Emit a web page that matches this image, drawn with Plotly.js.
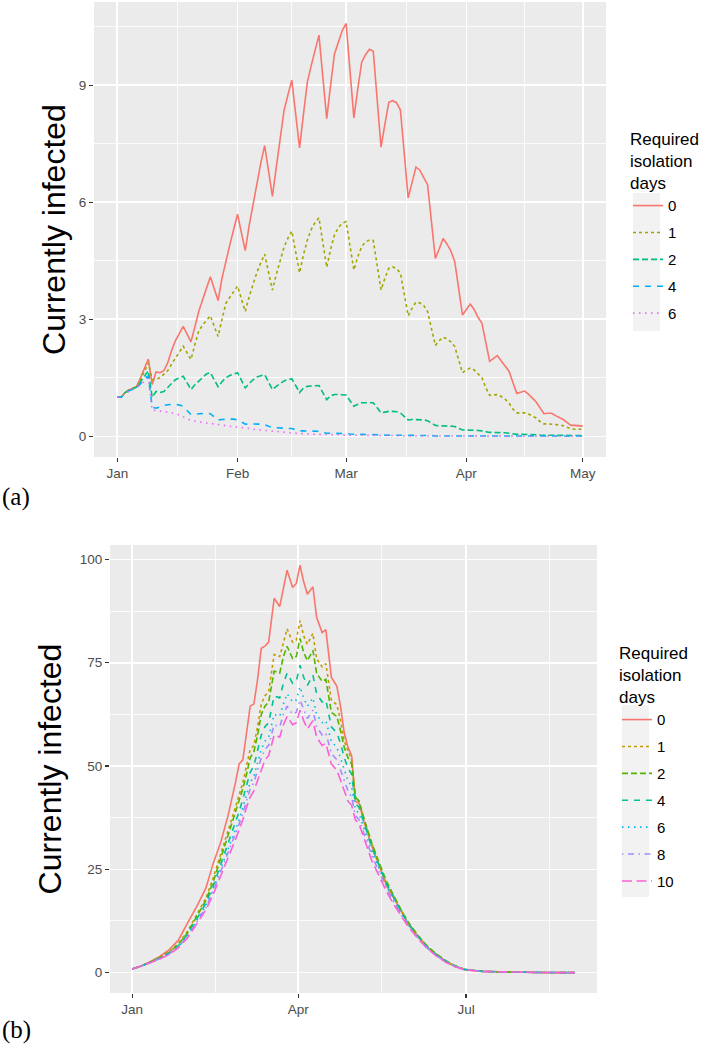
<!DOCTYPE html>
<html>
<head>
<meta charset="utf-8">
<script src="https://cdn.plot.ly/plotly-3.0.1.min.js"></script>
<style>html,body{margin:0;padding:0;background:#fff;}#chart{width:709px;height:1050px;}</style>
</head>
<body>
<div id="chart"></div>
<script>
// ---------- Panel (a): daily values, Jan 1 .. May 1 ----------
const startA = '2021-01-01';
const levelsA = ['0', '1', '2', '4', '6'];
const colorsA = ['#F8766D', '#A3A500', '#00BF7D', '#00B0F6', '#E76BF3'];
const dashesA = ['solid', '3px,3px', '6px,3px', '6px,6px', '1.5px,4.5px'];

const a_iso0 = [1.00,1.00,1.12,1.19,1.23,1.28,1.50,1.75,1.98,1.33,
1.65,1.63,1.68,1.88,2.20,2.45,2.65,2.82,2.62,2.42,
2.80,3.20,3.50,3.80,4.09,3.78,3.48,4.05,4.52,4.90,
5.30,5.69,5.22,4.76,5.40,5.97,6.50,7.00,7.45,6.80,
6.15,6.90,7.58,8.35,8.75,9.13,8.25,7.39,8.25,9.07,
9.50,9.88,10.28,9.20,8.14,9.00,9.80,10.10,10.40,10.58,
9.40,8.16,8.90,9.58,9.78,9.92,9.87,8.65,7.41,8.00,
8.56,8.60,8.55,8.36,7.25,6.11,6.50,6.90,6.82,6.65,
6.45,5.50,4.56,4.80,5.07,4.93,4.75,4.48,3.80,3.11,
3.25,3.39,3.25,3.05,2.90,2.40,1.92,2.00,2.07,1.93,
1.80,1.67,1.38,1.10,1.13,1.16,1.08,0.98,0.88,0.73,
0.58,0.59,0.59,0.53,0.48,0.43,0.35,0.28,0.28,0.27,
0.26];
const a_iso1 = [1.00,1.00,1.12,1.19,1.23,1.27,1.45,1.65,1.88,1.45,
1.46,1.50,1.60,1.68,1.85,2.00,2.15,2.31,2.14,1.97,
2.35,2.70,2.85,2.98,3.09,2.82,2.56,3.00,3.41,3.56,
3.72,3.85,3.52,3.20,3.58,3.92,4.20,4.45,4.67,4.20,
3.75,4.15,4.50,4.85,5.08,5.26,4.72,4.19,4.65,5.03,
5.30,5.48,5.60,4.95,4.33,4.80,5.16,5.35,5.46,5.50,
4.88,4.26,4.60,4.86,4.98,5.03,5.02,4.40,3.75,4.05,
4.31,4.34,4.30,4.18,3.62,3.09,3.28,3.44,3.42,3.35,
3.20,2.75,2.33,2.45,2.54,2.50,2.42,2.30,1.95,1.63,
1.70,1.75,1.70,1.60,1.50,1.25,1.05,1.06,1.07,1.02,
0.95,0.85,0.70,0.60,0.60,0.60,0.57,0.53,0.47,0.38,
0.32,0.32,0.31,0.31,0.29,0.27,0.23,0.19,0.18,0.18,
0.18];
const a_iso2 = [1.00,1.00,1.12,1.18,1.22,1.26,1.40,1.55,1.68,1.00,
1.15,1.12,1.15,1.25,1.35,1.45,1.50,1.54,1.37,1.20,
1.32,1.42,1.52,1.60,1.63,1.45,1.27,1.40,1.50,1.56,
1.60,1.63,1.44,1.24,1.35,1.45,1.52,1.56,1.58,1.39,
1.20,1.28,1.36,1.42,1.46,1.47,1.30,1.12,1.24,1.28,
1.29,1.30,1.30,1.12,0.94,1.04,1.07,1.07,1.07,1.06,
0.91,0.77,0.82,0.86,0.86,0.86,0.86,0.73,0.60,0.62,
0.64,0.64,0.63,0.60,0.50,0.42,0.43,0.43,0.43,0.42,
0.40,0.34,0.28,0.27,0.27,0.26,0.26,0.25,0.20,0.16,
0.16,0.16,0.16,0.15,0.14,0.12,0.10,0.10,0.10,0.10,
0.09,0.08,0.06,0.05,0.05,0.05,0.05,0.04,0.04,0.03,
0.03,0.03,0.03,0.03,0.02,0.02,0.02,0.02,0.02,0.02,
0.02];
const a_iso4 = [1.00,1.00,1.10,1.17,1.20,1.24,1.35,1.48,1.55,0.75,
0.72,0.76,0.79,0.81,0.82,0.82,0.80,0.77,0.66,0.56,
0.57,0.58,0.59,0.59,0.58,0.50,0.42,0.43,0.44,0.44,
0.44,0.42,0.37,0.31,0.32,0.32,0.32,0.31,0.30,0.26,
0.22,0.22,0.21,0.21,0.20,0.20,0.17,0.14,0.14,0.14,
0.14,0.13,0.13,0.10,0.08,0.08,0.08,0.08,0.07,0.07,
0.06,0.05,0.05,0.05,0.05,0.05,0.05,0.04,0.03,0.03,
0.03,0.03,0.03,0.03,0.02,0.02,0.02,0.02,0.02,0.02,
0.02,0.02,0.01,0.01,0.01,0.01,0.01,0.01,0.01,0.01,
0.01,0.01,0.01,0.01,0.01,0.01,0.01,0.01,0.01,0.01,
0.01,0.01,0.01,0.01,0.01,0.01,0.01,0.01,0.01,0.01,
0.01,0.01,0.01,0.01,0.01,0.01,0.01,0.01,0.01,0.01,
0.01];
const a_iso6 = [1.00,1.00,1.10,1.16,1.20,1.24,1.32,1.42,1.50,0.67,
0.66,0.64,0.63,0.62,0.60,0.58,0.55,0.50,0.45,0.41,
0.39,0.37,0.35,0.34,0.33,0.32,0.31,0.29,0.27,0.26,
0.25,0.24,0.23,0.22,0.20,0.18,0.17,0.16,0.15,0.14,
0.13,0.12,0.11,0.10,0.09,0.08,0.08,0.07,0.07,0.06,
0.06,0.05,0.05,0.05,0.04,0.04,0.04,0.04,0.03,0.03,
0.03,0.03,0.03,0.02,0.02,0.02,0.02,0.02,0.02,0.02,
0.02,0.02,0.02,0.01,0.01,0.01,0.01,0.01,0.01,0.01,
0.01,0.01,0.01,0.01,0.01,0.01,0.01,0.01,0.01,0.01,
0.01,0.01,0.01,0.01,0.01,0.01,0.01,0.01,0.01,0.01,
0.00,0.00,0.00,0.00,0.00,0.00,0.00,0.00,0.00,0.00,
0.00,0.00,0.00,0.00,0.00,0.00,0.00,0.00,0.00,0.00,
0.00];
const seriesA = [a_iso0, a_iso1, a_iso2, a_iso4, a_iso6];
const tickValsA = ['2021-01-01', '2021-02-01', '2021-03-01', '2021-04-01', '2021-05-01'];
const tickTextA = ['Jan', 'Feb', 'Mar', 'Apr', 'May'];

// ---------- Panel (b): days since Jan 1 ----------
const levelsB = ['0', '1', '2', '4', '6', '8', '10'];
const colorsB = ['#F8766D', '#C49A00', '#53B400', '#00C094', '#00B6EB', '#A58AFF', '#FB61D7'];
const dashesB = ['solid', '3px,3px', '6px,3px', '6px,6px', '1.5px,4.5px', '1.5px,4.5px,6px,4.5px', '10px,4.5px'];
const daysB = [0,5,10,15,20,25,30,35,40,44,48,52,
56,58,60,62,64,66,68,70,72,74,
77,80,82,84,87,89,91,93,95,98,
100,103,105,108,111,113,115,117,119,121,
123,126,
130,134,138,142,146,150,
155,160,165,170,175,180,
190,200,210,220,230,240];
const b_iso0 = [0.9,1.6,2.7,3.9,5.5,7.8,12.0,16.0,20.5,26.5,31.5,38.0,
46.0,50.5,51.5,57.5,64.5,65.0,71.0,78.5,79.0,80.0,
90.6,88.6,93.0,97.4,93.2,94.2,98.6,94.6,91.6,93.4,
86.0,82.3,83.0,71.5,69.3,64.4,58.0,54.5,52.5,41.5,
41.0,36.0,
30.5,25.5,21.0,18.0,14.6,11.5,
8.6,6.2,4.3,2.7,1.5,0.7,
0.3,0.15,0.05,0.02,0.01,0.0];
const b_iso1 = [0.9,1.6,2.6,3.7,5.0,7.0,10.0,14.0,18.0,23.0,28.5,34.0,
40.0,43.0,46.0,50.0,54.0,55.0,59.5,65.0,67.0,68.0,
77.0,76.5,80.0,83.2,80.0,80.5,85.2,81.5,79.5,82.1,
76.0,74.0,74.8,66.0,64.8,61.0,56.0,53.5,51.5,42.5,
41.5,36.5,
31.0,26.0,21.5,18.2,14.8,11.8,
8.8,6.3,4.4,2.8,1.6,0.8,
0.3,0.15,0.05,0.02,0.01,0.0];
const b_iso2 = [0.9,1.6,2.6,3.6,4.9,6.8,9.6,13.5,17.5,22.0,27.5,33.0,
38.5,41.5,44.5,48.0,52.0,53.5,57.5,62.5,64.5,65.5,
73.0,72.5,76.5,79.0,76.0,76.5,80.9,77.5,75.5,78.0,
72.5,70.5,71.0,63.0,62.0,58.5,54.5,52.0,50.5,42.5,
41.5,36.8,
31.2,26.5,22.0,18.5,15.0,12.0,
9.0,6.4,4.5,2.9,1.7,0.8,
0.3,0.15,0.05,0.02,0.01,0.0];
const b_iso4 = [0.9,1.6,2.5,3.5,4.7,6.5,9.2,13.0,16.8,21.0,26.0,31.0,
36.0,39.0,42.0,45.0,48.5,50.0,53.5,57.5,59.5,60.5,
67.0,66.5,70.0,72.5,70.0,70.5,74.4,71.5,69.5,72.0,
67.5,65.5,66.0,59.5,58.0,55.5,52.0,49.5,48.0,41.0,
40.0,35.8,
30.2,25.8,21.5,18.0,14.6,11.7,
8.8,6.2,4.3,2.8,1.6,0.8,
0.3,0.15,0.05,0.02,0.01,0.0];
const b_iso6 = [0.9,1.6,2.5,3.4,4.6,6.3,8.9,12.5,16.2,20.3,25.0,29.8,
34.5,37.0,40.0,43.0,46.0,47.5,50.5,54.0,56.0,57.0,
62.5,62.0,65.0,67.5,65.5,66.0,69.2,66.5,64.5,66.5,
62.5,60.5,61.0,56.0,54.5,52.0,49.0,46.5,45.0,39.5,
38.5,34.5,
29.2,25.0,20.8,17.5,14.2,11.4,
8.6,6.0,4.2,2.7,1.6,0.8,
0.3,0.15,0.05,0.02,0.01,0.0];
const b_iso8 = [0.9,1.6,2.5,3.4,4.5,6.2,8.7,12.2,15.8,19.8,24.3,29.0,
33.5,36.0,38.5,41.5,44.5,46.0,49.0,52.0,54.0,55.0,
60.0,59.5,62.5,64.5,62.5,63.0,66.0,63.5,61.5,63.5,
59.5,57.5,58.0,53.0,51.5,49.0,46.5,44.0,42.5,38.0,
37.0,33.2,
28.2,24.3,20.3,17.0,13.9,11.2,
8.4,5.9,4.1,2.6,1.5,0.8,
0.3,0.15,0.05,0.02,0.01,0.0];
const b_iso10 = [0.9,1.6,2.4,3.3,4.4,6.0,8.4,11.8,15.2,19.0,23.2,27.8,
32.2,34.5,37.0,40.0,42.5,44.0,46.5,49.5,51.5,52.5,
57.5,57.0,60.0,62.0,60.0,60.5,63.5,61.0,59.0,61.0,
57.0,55.0,55.5,50.5,49.0,46.5,44.0,41.5,40.5,37.0,
36.0,32.0,
27.0,23.3,19.5,16.4,13.5,10.9,
8.2,5.8,4.0,2.5,1.5,0.7,
0.3,0.15,0.05,0.02,0.01,0.0];
const seriesB = [b_iso0, b_iso1, b_iso2, b_iso4, b_iso6, b_iso8, b_iso10];
const tickValsB = ['2021-01-01', '2021-04-01', '2021-07-01'];
const tickTextB = ['Jan', 'Apr', 'Jul'];

// ---------- helpers ----------
const DAY = 86400000;
const t0 = Date.parse(startA + 'T00:00:00Z');
function dayToDate(d) { return new Date(t0 + d * DAY).toISOString().slice(0, 10); }
const datesA = a_iso0.map((_, i) => dayToDate(i));
const datesB = daysB.map(dayToDate);

const W = 709, H = 1050;
const px = v => v / W;
const py = v => 1 - v / H;

const traces = [];
seriesA.forEach((ys, i) => {
  traces.push({
    type: 'scatter', mode: 'lines', x: datesA, y: ys,
    name: levelsA[i], legend: 'legend', legendgroup: 'a' + i,
    xaxis: 'x', yaxis: 'y',
    line: { color: colorsA[i], width: 1.6, dash: dashesA[i] },
    hoverinfo: 'skip'
  });
});
seriesB.forEach((ys, i) => {
  traces.push({
    type: 'scatter', mode: 'lines', x: datesB, y: ys,
    name: levelsB[i], legend: 'legend2', legendgroup: 'b' + i,
    xaxis: 'x2', yaxis: 'y2',
    line: { color: colorsB[i], width: 1.6, dash: dashesB[i] },
    hoverinfo: 'skip'
  });
});

const FONT = 'Liberation Sans, Arial, sans-serif';
const tickFont = { family: FONT, size: 13.5, color: '#4D4D4D' };
const common = {
  showgrid: true, gridcolor: '#FFFFFF', gridwidth: 1.6,
  zeroline: false, showline: false,
  ticks: 'outside', ticklen: 4, tickwidth: 1.1, tickcolor: '#333333',
  tickfont: tickFont, fixedrange: true
};
const minorGrid = { showgrid: true, gridcolor: '#FFFFFF', gridwidth: 0.8, ticks: '' };

const legendCommon = {
  xanchor: 'left', yanchor: 'top',
  bgcolor: 'rgba(0,0,0,0)', borderwidth: 0,
  font: { family: FONT, size: 15, color: '#000000' },
  itemwidth: 30, tracegroupgap: 4.4, traceorder: 'grouped'
};

const layout = {
  width: W, height: H,
  margin: { l: 0, r: 0, t: 0, b: 0 },
  paper_bgcolor: '#FFFFFF', plot_bgcolor: '#EBEBEB',
  font: { family: FONT },
  showlegend: true,
  xaxis: Object.assign({}, common, {
    domain: [px(94), px(606)], anchor: 'y', type: 'date',
    range: ['2020-12-26', '2021-05-07'],
    tickmode: 'array', tickvals: tickValsA, ticktext: tickTextA,
    minor: Object.assign({ tickmode: 'array', tickvals: ['2021-01-16 12:00', '2021-02-15', '2021-03-16 12:00', '2021-04-16'] }, minorGrid)
  }),
  yaxis: Object.assign({}, common, {
    domain: [py(457), py(2)], anchor: 'x',
    range: [-0.53, 11.13],
    tickmode: 'array', tickvals: [0, 3, 6, 9],
    minor: Object.assign({ tickmode: 'array', tickvals: [1.5, 4.5, 7.5, 10.5] }, minorGrid),
    title: { text: 'Currently infected', font: { family: FONT, size: 32, color: '#000000' }, standoff: 3 }
  }),
  xaxis2: Object.assign({}, common, {
    domain: [px(110), px(597)], anchor: 'y2', type: 'date',
    range: ['2020-12-20', '2021-09-10'],
    tickmode: 'array', tickvals: tickValsB, ticktext: tickTextB,
    minor: Object.assign({ tickmode: 'array', tickvals: ['2021-02-15', '2021-05-16', '2021-08-15'] }, minorGrid)
  }),
  yaxis2: Object.assign({}, common, {
    domain: [py(993), py(545)], anchor: 'x2',
    range: [-4.93, 103.5],
    tickmode: 'array', tickvals: [0, 25, 50, 75, 100],
    minor: Object.assign({ tickmode: 'array', tickvals: [12.5, 37.5, 62.5, 87.5] }, minorGrid),
    title: { text: 'Currently infected', font: { family: FONT, size: 32, color: '#000000' }, standoff: 8 }
  }),
  legend: Object.assign({}, legendCommon, {
    x: px(628), y: py(123),
    title: { text: 'Required<br>isolation<br>days', font: { family: FONT, size: 17, color: '#000000' } }
  }),
  legend2: Object.assign({}, legendCommon, {
    x: px(617), y: py(637),
    title: { text: 'Required<br>isolation<br>days', font: { family: FONT, size: 17, color: '#000000' } }
  }),
  shapes: [
    { type: 'rect', xref: 'paper', yref: 'paper', x0: px(633), x1: px(660), y0: py(331), y1: py(193), fillcolor: '#F2F2F2', line: { width: 0 }, layer: 'below' },
    { type: 'rect', xref: 'paper', yref: 'paper', x0: px(622), x1: px(649), y0: py(897), y1: py(705), fillcolor: '#F2F2F2', line: { width: 0 }, layer: 'below' }
  ],
  annotations: [
    { text: '(a)', xref: 'paper', yref: 'paper', x: 0, y: py(497), xanchor: 'left', yanchor: 'middle', showarrow: false, font: { family: 'Liberation Serif, Times New Roman, serif', size: 25, color: '#000000' } },
    { text: '(b)', xref: 'paper', yref: 'paper', x: 0, y: py(1030), xanchor: 'left', yanchor: 'middle', showarrow: false, font: { family: 'Liberation Serif, Times New Roman, serif', size: 25, color: '#000000' } }
  ]
};

Plotly.newPlot('chart', traces, layout, { staticPlot: true, displayModeBar: false });
</script>
</body>
</html>
